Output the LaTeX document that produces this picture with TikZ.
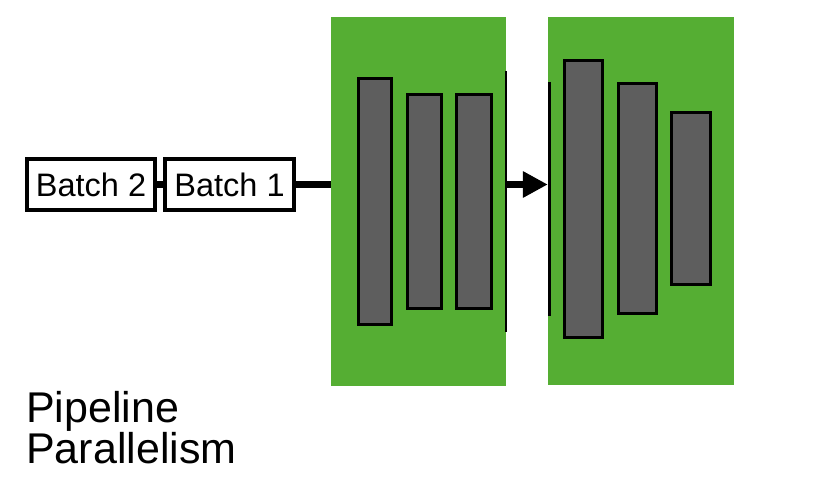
\documentclass[tikz,border=0pt]{standalone}
\usepackage{fontspec}
\setmainfont{Liberation Sans}
\usetikzlibrary{arrows.meta}
\definecolor{gpugreen}{HTML}{55AE33}
\definecolor{bargray}{HTML}{5E5E5E}
\tikzset{
  gpu/.style={fill=gpugreen, draw=none, inner sep=0pt},
  layerbar/.style={fill=bargray, draw=black, line width=3pt, inner sep=0pt},
  batchbox/.style={draw=black, fill=white, line width=4pt, inner sep=0pt, minimum height=51pt,
    font=\fontsize{32.5}{36}\selectfont},
  conn/.style={line width=7pt, draw=black},
  cut/.style={draw=black},
}
\begin{document}
\begin{tikzpicture}[x=1pt,y=-1pt]
\useasboundingbox (0,0) rectangle (832,492);
% devices
\node[gpu, minimum width=175pt, minimum height=369pt] (g1) at (418.5,201.5) {};
\node[gpu, minimum width=186pt, minimum height=368pt] (g2) at (641,201) {};
% layers
\node[layerbar, minimum width=33pt, minimum height=246pt] (l1) at (375,201.5) {};
\node[layerbar, minimum width=34pt, minimum height=214pt] (l2) at (424.5,201.5) {};
\node[layerbar, minimum width=35pt, minimum height=214pt] (l3) at (474,201.5) {};
\node[layerbar, minimum width=38pt, minimum height=277pt] (l4) at (583.5,199) {};
\node[layerbar, minimum width=38pt, minimum height=230pt] (l5) at (637.5,198.5) {};
\node[layerbar, minimum width=39pt, minimum height=172pt] (l6) at (691,198.5) {};
% cut lines
\draw[cut, line width=2pt] (506,71) -- (506,332);
\draw[cut, line width=3pt] (549.5,82) -- (549.5,316);
% batches
\node[batchbox, minimum width=128pt] (b2) at (91,184.5) {Batch 2};
\node[batchbox, minimum width=129pt] (b1) at (229.5,184.5) {Batch 1};
% connectors
\draw[conn] (b2.east) -- (b1.west);
\draw[conn] (b1.east) -- (g1.west |- b1.east);
\draw[conn, -{Triangle[length=25pt,width=25pt]}] (g1.east |- b1.east) -- (g2.west |- b1.east);
% label
\node[anchor=base west, align=left, inner sep=0pt, font=\fontsize{43}{37.7}\selectfont] (lbl) at (26,463.3) {Pipeline\\Parallelism};
\end{tikzpicture}
\end{document}
